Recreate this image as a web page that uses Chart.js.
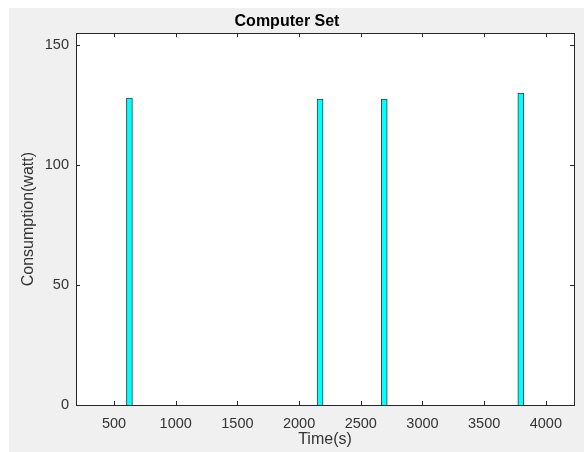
<!DOCTYPE html>
<html lang="en">
<head>
    <meta charset="UTF-8">
    <title>Computer Set</title>
    <style>
        body {
            margin: 0;
            background-color: #fff;
        }
        #frame {
            position: absolute;
            left: 9px;
            top: 8px;
            width: 575px;
            height: 444px;
            background-color: #f0f0f0;
        }
        #chart-box {
            position: absolute;
            left: 0;
            top: 0;
            width: 584px;
            height: 452px;
        }
    </style>
    <script src="https://cdn.jsdelivr.net/npm/chart.js"></script>
</head>
<body>

<div id="frame"></div>
<div id="chart-box">
    <canvas id="powerChart" width="584" height="452"></canvas>
</div>

<script>
// Data
const times = [625, 2170, 2690, 3797];
const watts = [128, 127.5, 127.5, 130];

const xTickValues = [500, 1000, 1500, 2000, 2500, 3000, 3500, 4000];
const yTickValues = [0, 50, 100, 150];

const textColor = '#333333';
const fontFamily = "'Liberation Sans', Arial, sans-serif";

// MATLAB style box with ticks pointing inwards on all four sides
const matlabAxes = {
    id: 'matlabAxes',
    beforeDraw(chart) {
        const { ctx, chartArea: a } = chart;
        ctx.save();
        ctx.fillStyle = '#fff';
        ctx.fillRect(a.left, a.top, a.right - a.left, a.bottom - a.top);
        ctx.restore();
    },
    afterDraw(chart) {
        const { ctx, chartArea: a } = chart;
        const xs = chart.scales.x;
        const ys = chart.scales.y;
        const len = 4;
        ctx.save();
        ctx.strokeStyle = '#262626';
        ctx.lineWidth = 1;
        ctx.beginPath();
        xTickValues.forEach(v => {
            const px = Math.round(xs.getPixelForValue(v)) + 0.5;
            ctx.moveTo(px, a.bottom);
            ctx.lineTo(px, a.bottom - len);
            ctx.moveTo(px, a.top);
            ctx.lineTo(px, a.top + len);
        });
        yTickValues.forEach(v => {
            const py = Math.round(ys.getPixelForValue(v)) + 0.5;
            ctx.moveTo(a.left, py);
            ctx.lineTo(a.left + len, py);
            ctx.moveTo(a.right, py);
            ctx.lineTo(a.right - len, py);
        });
        ctx.stroke();
        ctx.strokeRect(Math.round(a.left) + 0.5, Math.round(a.top) + 0.5,
            Math.round(a.right - a.left), Math.round(a.bottom - a.top));
        ctx.restore();
    }
};

const ctx = document.getElementById('powerChart').getContext('2d');
const powerChart = new Chart(ctx, {
    type: 'bar',
    data: {
        datasets: [{
            data: times.map((t, i) => ({ x: t, y: watts[i] })),
            backgroundColor: '#00ffff',
            borderColor: '#3a3a3a',
            borderWidth: 1,
            barThickness: 6
        }]
    },
    options: {
        responsive: false,
        animation: false,
        layout: {
            padding: { left: 0, right: 10, top: 0, bottom: 0 }
        },
        plugins: {
            legend: { display: false },
            tooltip: { enabled: false },
            title: {
                display: true,
                text: 'Computer Set',
                color: '#000',
                font: { family: fontFamily, size: 16, weight: 'bold' },
                padding: { top: 12, bottom: 2 }
            }
        },
        scales: {
            x: {
                type: 'linear',
                min: 192,
                max: 4228,
                offset: false,
                afterFit(scale) { scale.height = 47; },
                afterBuildTicks(scale) {
                    scale.ticks = xTickValues.map(v => ({ value: v }));
                },
                grid: { display: false, drawTicks: false },
                border: { display: false },
                ticks: {
                    color: textColor,
                    font: { family: fontFamily, size: 14.5 },
                    padding: 10,
                    maxRotation: 0,
                    callback: v => String(v)
                },
                title: {
                    display: true,
                    text: 'Time(s)',
                    color: textColor,
                    font: { family: fontFamily, size: 16 },
                    padding: { top: 0, bottom: 3 }
                }
            },
            y: {
                min: 0,
                max: 155,
                afterFit(scale) { scale.width = 76; },
                afterBuildTicks(scale) {
                    scale.ticks = yTickValues.map(v => ({ value: v }));
                },
                grid: { display: false, drawTicks: false },
                border: { display: false },
                ticks: {
                    color: textColor,
                    font: { family: fontFamily, size: 14.5 },
                    padding: 7,
                    callback: v => String(v)
                },
                title: {
                    display: true,
                    text: 'Consumption(watt)',
                    color: textColor,
                    font: { family: fontFamily, size: 16 },
                    padding: { top: 19, bottom: 0 }
                }
            }
        }
    },
    plugins: [matlabAxes]
});
</script>

</body>
</html>
